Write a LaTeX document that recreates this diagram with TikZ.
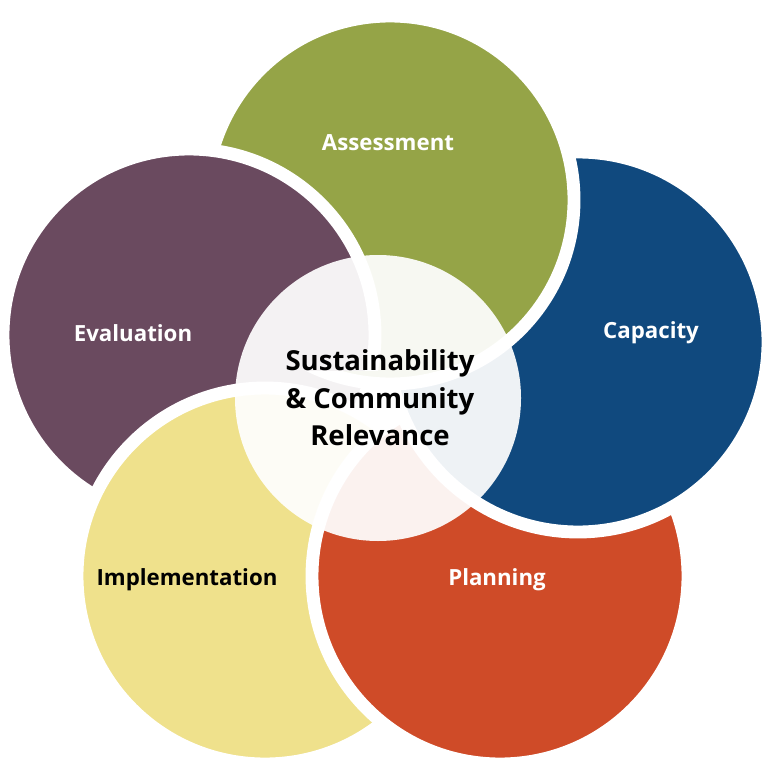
\documentclass[tikz,border=0pt]{standalone}
\usepackage{fontspec}
\setmainfont{Open Sans}
\usepackage{tikz}

\definecolor{evalc}{HTML}{6A4A5F}
\definecolor{implc}{HTML}{EFE18C}
\definecolor{planc}{HTML}{CF4B28}
\definecolor{capc}{HTML}{10497E}
\definecolor{assc}{HTML}{95A447}

\tikzset{
  petal/.style={draw=white,line width=11pt},
  lab/.style={font=\bfseries\fontsize{19}{22}\selectfont,text=white},
}

\begin{document}
\begin{tikzpicture}[x=0.03cm,y=-0.03cm]
	\useasboundingbox (0,0) rectangle (768,768);

	% petals, bottom to top
	\fill[evalc,petal] (189,335) circle (186);
	\fill[implc,petal] (265,576) circle (188);
	\fill[planc,petal] (500,576) circle (188);
	\fill[capc,petal] (578,342) circle (190);
	\fill[assc,petal] (390,200) circle (184);
	% evaluation again, over assessment only
	\begin{scope}
		\clip (0,0) rectangle (400,370);
		\fill[evalc,petal] (189,335) circle (186);
	\end{scope}

	% centre
	\fill[white,fill opacity=0.93] (378,398) circle (143);

	\node[lab] (ass) at (388,143) {Assessment};
	\node[lab] (cap) at (651,333) {Capacity};
	\node[lab] (plan) at (497,580) {Planning};
	\node[lab,text=black] (impl) at (187,580) {Implementation};
	\node[lab] (eval) at (133,333) {Evaluation};
	\node[font=\bfseries\fontsize{23.5}{32}\selectfont,align=center] (core) at (380,398)
		{Sustainability\\\& Community\\Relevance};
\end{tikzpicture}
\end{document}
